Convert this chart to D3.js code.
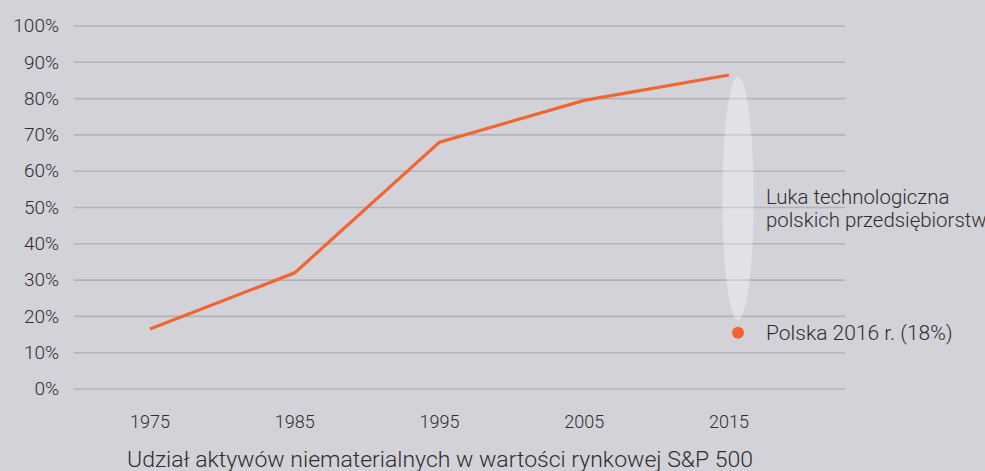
<!DOCTYPE html>
<html>
<head>
<meta charset="utf-8">
<script src="https://cdn.jsdelivr.net/npm/d3@7"></script>
<style>
  body { margin: 0; background: #d3d2d8; }
  svg { display: block; font-family: Roboto, "Noto Sans", sans-serif; font-weight: 300; }
</style>
</head>
<body>
<div id="chart"></div>
<script>
// dane
const years = [1975, 1985, 1995, 2005, 2015];
const shares = [16.5, 32, 68, 79.5, 86.5];
const yTicks = [0, 10, 20, 30, 40, 50, 60, 70, 80, 90, 100];
const polandValue = 15.5;
const gapRange = [19, 86];
const gapLabel = ["Luka technologiczna", "polskich przedsiębiorstw"];
const polandLabel = "Polska 2016 r. (18%)";
const title = "Udział aktywów niematerialnych w wartości rynkowej S&P 500";

const width = 985, height = 471;
const gridLeft = 74, gridRight = 845;

const svg = d3.select('#chart').append('svg')
    .attr('width', width)
    .attr('height', height);

const x = d3.scaleLinear().domain([1975, 2015]).range([150, 729]);
const y = d3.scaleLinear().domain([0, 100]).range([389, 26]);

// siatka
svg.append('g')
    .selectAll('line')
    .data(yTicks)
    .enter().append('line')
    .attr('x1', gridLeft)
    .attr('x2', gridRight)
    .attr('y1', d => y(d))
    .attr('y2', d => y(d))
    .attr('stroke', '#b2b4b9')
    .attr('stroke-width', 1.6);

// etykiety osi Y
svg.append('g')
    .selectAll('text')
    .data(yTicks)
    .enter().append('text')
    .attr('x', 59)
    .attr('y', d => y(d))
    .attr('dy', '0.33em')
    .attr('text-anchor', 'end')
    .attr('font-size', 19)
    .attr('fill', '#2e2e2e')
    .text(d => d + '%');

// etykiety osi X
svg.append('g')
    .selectAll('text')
    .data(years)
    .enter().append('text')
    .attr('x', d => x(d))
    .attr('y', 428)
    .attr('text-anchor', 'middle')
    .attr('font-size', 18)
    .attr('fill', '#2e2e2e')
    .text(d => d);

// elipsa - luka
const gapX = x(2015) + 9;
svg.append('ellipse')
    .attr('cx', gapX)
    .attr('cy', (y(gapRange[0]) + y(gapRange[1])) / 2)
    .attr('rx', 15.7)
    .attr('ry', (y(gapRange[0]) - y(gapRange[1])) / 2)
    .attr('fill', '#ffffff')
    .attr('fill-opacity', 0.35);

// linia
const line = d3.line()
    .x((d, i) => x(years[i]))
    .y(d => y(d));

svg.append('path')
    .datum(shares)
    .attr('d', line)
    .attr('fill', 'none')
    .attr('stroke', '#f26531')
    .attr('stroke-width', 3.2);

// punkt Polska
svg.append('circle')
    .attr('cx', gapX)
    .attr('cy', y(polandValue))
    .attr('r', 6)
    .attr('fill', '#f26531');

svg.append('text')
    .attr('x', 766)
    .attr('y', y(polandValue))
    .attr('dy', '0.35em')
    .attr('font-size', 21)
    .attr('fill', '#2e2e2e')
    .text(polandLabel);

svg.append('g')
    .selectAll('text')
    .data(gapLabel)
    .enter().append('text')
    .attr('x', 766)
    .attr('y', (d, i) => 204 + i * 22.5)
    .attr('font-size', 20.4)
    .attr('fill', '#2e2e2e')
    .text(d => d);

// tytuł
svg.append('text')
    .attr('x', 127)
    .attr('y', 467)
    .attr('font-size', 22)
    .attr('fill', '#2e2e2e')
    .attr('textLength', 626)
    .attr('lengthAdjust', 'spacingAndGlyphs')
    .text(title);
</script>
</body>
</html>
